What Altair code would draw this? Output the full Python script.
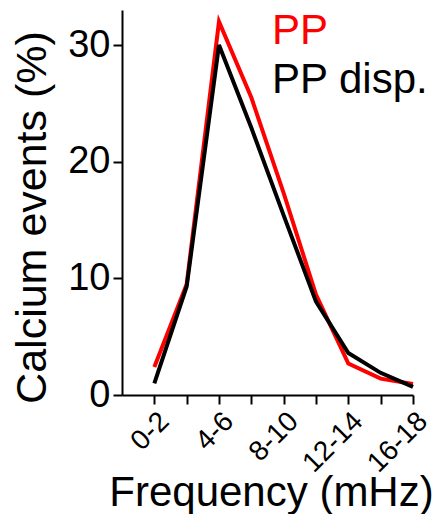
import json
import altair as alt
import pandas as pd

bins = ["0-2", "2-4", "4-6", "6-8", "8-10", "10-12", "12-14", "14-16", "16-18"]
pp = [2.4, 9.5, 32.0, 25.5, 17.3, 8.6, 2.7, 1.4, 0.95]
pp_disp = [1.0, 9.3, 30.0, 22.9, 15.4, 8.0, 3.6, 1.9, 0.7]
series_names = ["PP", "PP disp."]
series_colors = ["#ff0000", "#000000"]
y_ticks = [0, 10, 20, 30]

rows = []
for k, (name, vals) in enumerate(zip(series_names, [pp, pp_disp])):
    for i, (b, v) in enumerate(zip(bins, vals)):
        rows.append({"series": name, "idx": i, "bin": b, "value": v, "k": k})
df = pd.DataFrame(rows)

FONT = "Liberation Sans"
label_expr = f"datum.value % 2 === 0 ? {json.dumps(bins)}[datum.value] : ''"

chart = alt.Chart(df).mark_line(strokeWidth=4, strokeJoin="miter", strokeCap="butt").encode(
    x=alt.X("idx:Q",
            scale=alt.Scale(domain=[-1, len(bins) - 1], nice=False, zero=False),
            axis=alt.Axis(values=list(range(len(bins))), labelExpr=label_expr,
                          labelAngle=-45, labelFontSize=28, labelOverlap=False,
                          labelFlush=False, labelPadding=3,
                          title="Frequency (mHz)", titleFontSize=42,
                          titleFontWeight="normal", titleX=149, titleY=110,
                          titleAlign="center", titleBaseline="alphabetic")),
    y=alt.Y("value:Q",
            scale=alt.Scale(domain=[0, 33], nice=False),
            axis=alt.Axis(values=y_ticks, labelFontSize=38, labelPadding=3,
                          title="Calcium events (%)", titleFontSize=43,
                          titleFontWeight="normal", titleX=-68, titleY=207,
                          titleAlign="center", titleBaseline="bottom", titleAngle=-90)),
    color=alt.Color("series:N",
                    scale=alt.Scale(domain=series_names, range=series_colors),
                    legend=alt.Legend(orient="none", legendX=108, legendY=0, title=None,
                                      symbolSize=0, symbolOpacity=0, symbolStrokeWidth=0,
                                      labelOffset=0, labelFontSize=42, labelFont=FONT,
                                      rowPadding=7, labelLimit=0,
                                      labelColor=alt.ExprRef("datum.value === 'PP' ? '#ff0000' : '#000000'"))),
    order=alt.Order("k:Q"),
    detail="series:N",
).properties(
    width=291, height=385,
    autosize=alt.AutoSizeParams(type="none"),
    padding={"left": 114, "top": 2, "right": 27, "bottom": 119},
).configure_view(stroke=None).configure_axis(
    domainColor="black", domainWidth=2, tickColor="black", tickWidth=2, tickSize=9,
    labelColor="black", titleColor="black", labelFont=FONT, titleFont=FONT, grid=False,
).configure_legend(labelFont=FONT)

chart.save("out.html", embed_options={"renderer": "svg", "actions": False})
